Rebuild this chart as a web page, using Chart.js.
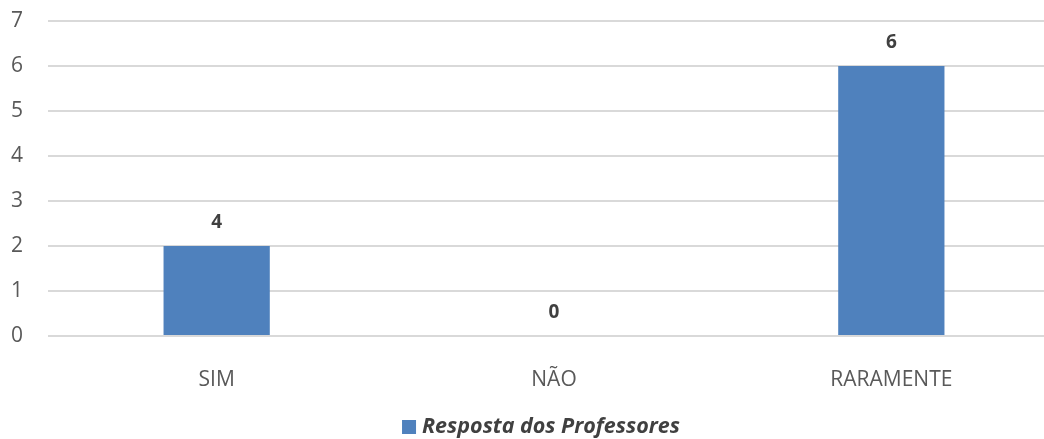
<!DOCTYPE html>
<html>
<head>
<meta charset="utf-8">
<script src="https://cdn.jsdelivr.net/npm/chart.js@4"></script>
<style>
  html, body { margin: 0; padding: 0; background: #fff; overflow: hidden; }
  #wrap { width: 1060px; height: 439px; position: relative; }
</style>
</head>
<body>
<div id="wrap"><canvas id="chart"></canvas></div>
<script>
// data
const categories = ['SIM', 'NÃO', 'RARAMENTE'];
const barValues = [2, 0, 6];
const valueLabels = ['4', '0', '6'];
const seriesName = 'Resposta dos Professores';
const yTicks = [0, 1, 2, 3, 4, 5, 6, 7];

const barColor = '#4F81BD';

// bold numbers above each bar + the legend underneath
const barLabels = {
    id: 'barLabels',
    afterDatasetsDraw(chart) {
        const ctx = chart.ctx;
        const meta = chart.getDatasetMeta(0);
        ctx.save();
        ctx.font = 'bold 19px "Open Sans"';
        ctx.fillStyle = '#404040';
        ctx.textAlign = 'center';
        ctx.textBaseline = 'bottom';
        meta.data.forEach((bar, i) => {
            ctx.fillText(valueLabels[i], bar.x, bar.y - 14);
        });

        // legend
        ctx.font = 'italic bold 21.5px "Open Sans"';
        const tw = ctx.measureText(seriesName).width;
        const total = 14 + 6 + tw;
        const x0 = 541 - total / 2;
        const yc = 427;
        ctx.fillStyle = barColor;
        ctx.fillRect(x0, yc - 7, 14, 14);
        ctx.fillStyle = '#404040';
        ctx.textAlign = 'left';
        ctx.textBaseline = 'middle';
        ctx.fillText(seriesName, x0 + 20, yc);
        ctx.restore();
    }
};

new Chart(document.getElementById('chart'), {
    type: 'bar',
    data: {
        labels: categories,
        datasets: [{
            label: seriesName,
            data: barValues,
            backgroundColor: barColor,
            categoryPercentage: 1,
            barPercentage: 0.315
        }]
    },
    options: {
        responsive: true,
        maintainAspectRatio: false,
        animation: false,
        layout: { padding: { top: 21, right: 0, left: 0, bottom: 0 } },
        plugins: {
            tooltip: { enabled: false },
            legend: { display: false }
        },
        scales: {
            x: {
                grid: { display: false },
                border: { display: false },
                ticks: {
                    color: '#595959',
                    font: { family: 'Open Sans', size: 21 },
                    padding: 23
                },
                afterFit(scale) { scale.height = 103; }
            },
            y: {
                min: 0,
                max: 7,
                afterBuildTicks(scale) { scale.ticks = yTicks.map(v => ({ value: v })); },
                grid: { color: '#d9d9d9', lineWidth: 2, drawTicks: false },
                border: { display: false },
                ticks: {
                    color: '#595959',
                    font: { family: 'Open Sans', size: 21 },
                    padding: 25
                },
                afterFit(scale) {
                    scale.width = 48;
                    scale.paddingTop = 0;
                    scale.paddingBottom = 0;
                }
            }
        }
    },
    plugins: [barLabels]
});
</script>
</body>
</html>
